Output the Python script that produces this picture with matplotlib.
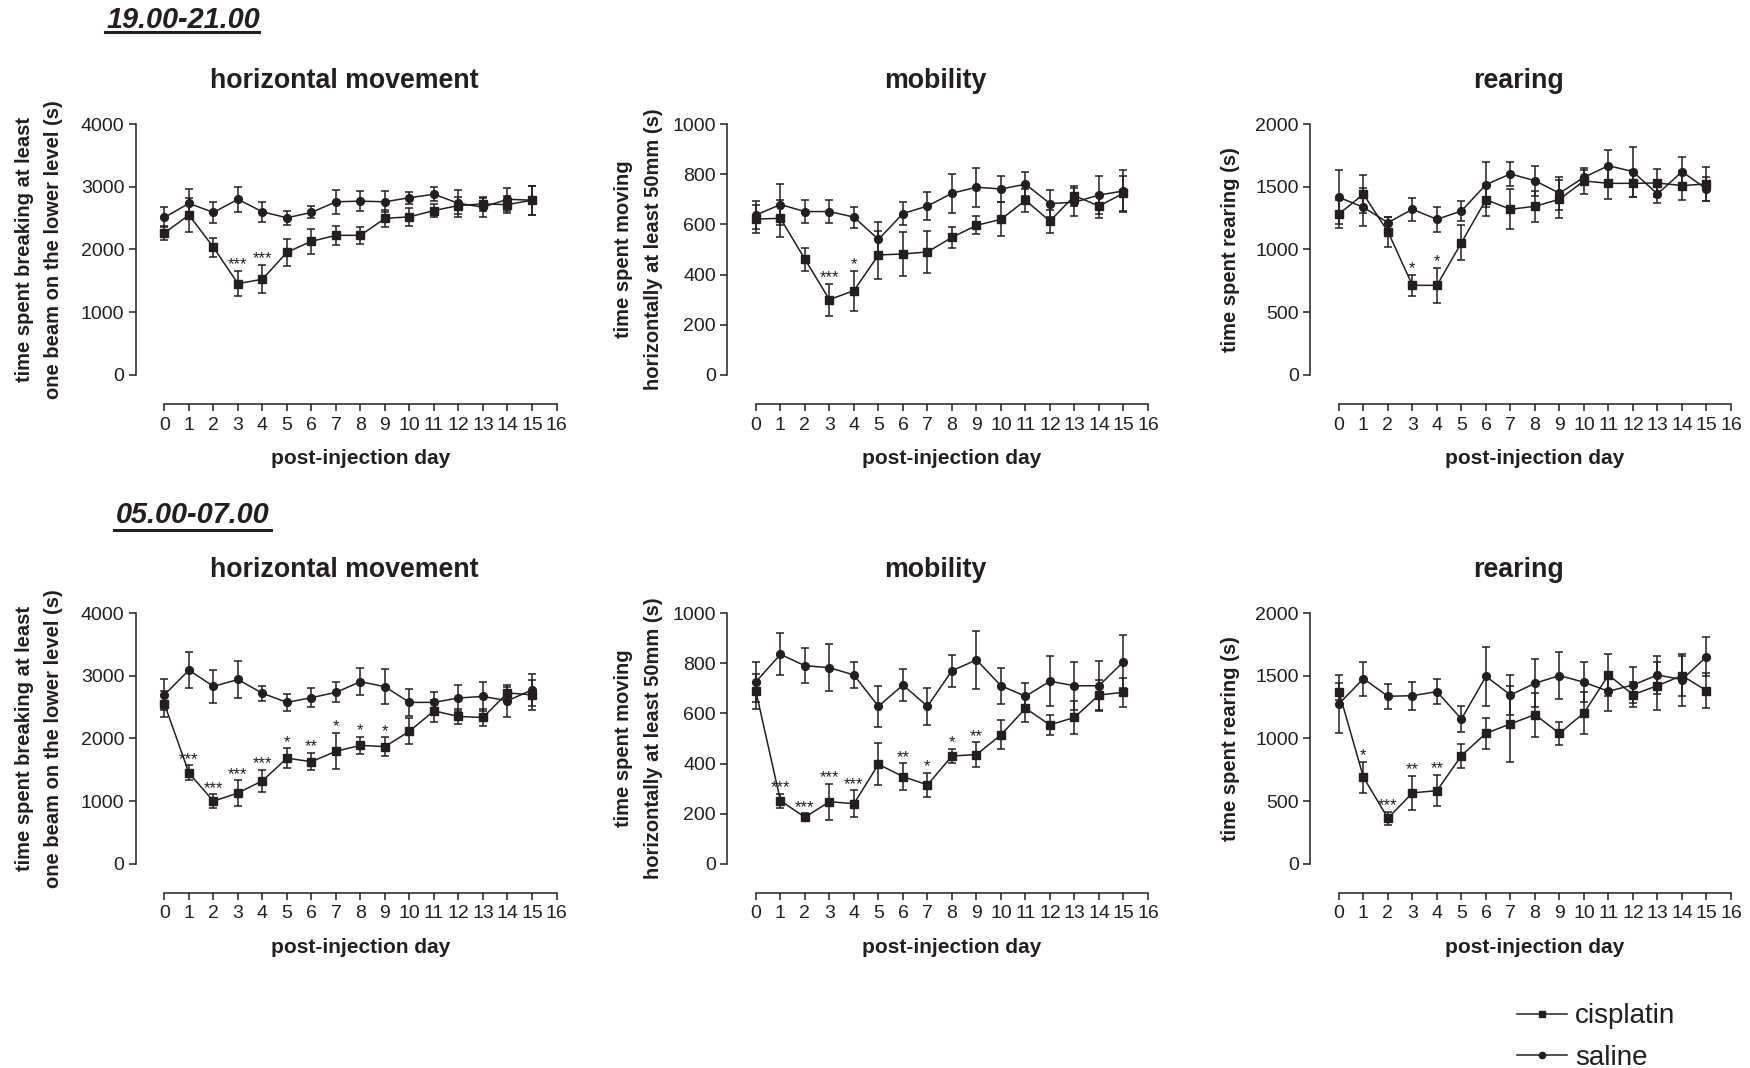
import numpy as np
import matplotlib
matplotlib.use('Agg')
import matplotlib.pyplot as plt
from matplotlib.lines import Line2D

plt.rcParams['font.family'] = ['Liberation Sans', 'DejaVu Sans']

INK = '#231f20'

days = np.arange(16)
day_ticks = np.arange(17)

# ---- 19.00-21.00 ----
hm_eve_cis = [2260, 2550, 2035, 1455, 1525, 1955, 2130, 2225, 2225, 2495, 2520, 2620, 2700, 2725, 2715, 2785]
hm_eve_cis_sem = [115, 265, 155, 205, 225, 215, 200, 155, 140, 140, 145, 100, 130, 110, 130, 230]
hm_eve_sal = [2510, 2735, 2590, 2800, 2600, 2505, 2590, 2760, 2770, 2760, 2825, 2880, 2735, 2675, 2800, 2785]
hm_eve_sal_sem = [160, 235, 170, 195, 155, 110, 95, 190, 160, 170, 95, 115, 210, 150, 185, 230]
hm_eve_stars = ['', '', '', '***', '***', '', '', '', '', '', '', '', '', '', '', '']

mob_eve_cis = [621, 624, 461, 300, 336, 478, 482, 490, 548, 596, 620, 696, 613, 714, 673, 724]
mob_eve_cis_sem = [56, 73, 46, 64, 80, 96, 86, 82, 43, 36, 68, 46, 46, 40, 49, 70]
mob_eve_sal = [637, 679, 651, 651, 629, 540, 643, 673, 724, 748, 741, 760, 683, 688, 717, 733]
mob_eve_sal_sem = [56, 81, 46, 46, 42, 70, 46, 56, 77, 78, 53, 48, 54, 55, 77, 85]
mob_eve_stars = ['', '', '', '***', '*', '', '', '', '', '', '', '', '', '', '', '']

rear_eve_cis = [1283, 1440, 1142, 714, 714, 1054, 1397, 1320, 1344, 1400, 1546, 1527, 1527, 1530, 1509, 1522]
rear_eve_cis_sem = [110, 150, 120, 85, 138, 138, 127, 160, 122, 150, 106, 122, 106, 114, 114, 133]
rear_eve_sal = [1416, 1336, 1214, 1320, 1240, 1307, 1517, 1602, 1548, 1448, 1575, 1668, 1620, 1442, 1620, 1482]
rear_eve_sal_sem = [217, 150, 48, 90, 99, 77, 180, 95, 120, 130, 56, 125, 199, 70, 120, 93]
rear_eve_stars = ['', '', '', '*', '*', '', '', '', '', '', '', '', '', '', '', '']

# ---- 05.00-07.00 ----
hm_morn_cis = [2550, 1450, 1000, 1130, 1325, 1685, 1630, 1795, 1890, 1870, 2115, 2440, 2350, 2335, 2725, 2695]
hm_morn_cis_sem = [210, 120, 110, 205, 175, 155, 140, 290, 140, 150, 205, 175, 120, 140, 100, 240]
hm_morn_sal = [2695, 3090, 2830, 2940, 2720, 2575, 2650, 2735, 2905, 2825, 2575, 2575, 2645, 2670, 2600, 2775]
hm_morn_sal_sem = [245, 290, 260, 295, 120, 135, 150, 160, 220, 280, 215, 170, 215, 225, 255, 260]
hm_morn_stars = ['', '***', '***', '***', '***', '*', '**', '*', '*', '*', '', '', '', '', '', '']

mob_morn_cis = [688, 252, 186, 248, 240, 397, 348, 315, 430, 436, 514, 620, 554, 584, 673, 684]
mob_morn_cis_sem = [70, 28, 16, 72, 53, 84, 53, 48, 29, 49, 58, 53, 40, 66, 58, 58]
mob_morn_sal = [726, 835, 790, 782, 753, 628, 713, 628, 770, 813, 710, 668, 728, 710, 710, 806]
mob_morn_sal_sem = [80, 84, 70, 93, 53, 82, 63, 73, 64, 117, 72, 53, 99, 95, 100, 106]
mob_morn_stars = ['', '***', '***', '***', '***', '', '**', '*', '*', '**', '', '', '', '', '', '']

rear_morn_cis = [1373, 691, 364, 566, 584, 863, 1041, 1116, 1190, 1041, 1203, 1506, 1349, 1421, 1501, 1381]
rear_morn_cis_sem = [70, 125, 53, 138, 125, 96, 125, 300, 175, 93, 167, 170, 100, 191, 160, 138]
rear_morn_sal = [1275, 1477, 1336, 1341, 1373, 1155, 1495, 1347, 1440, 1501, 1448, 1376, 1426, 1506, 1469, 1652]
rear_morn_sal_sem = [234, 135, 98, 112, 101, 104, 237, 162, 193, 186, 159, 157, 141, 150, 207, 154]
rear_morn_stars = ['', '*', '***', '**', '**', '', '', '', '', '', '', '', '', '', '', '']

titles = ['horizontal movement', 'mobility', 'rearing']
ylabels = ['time spent breaking at least\none beam on the lower level (s)',
           'time spent moving\nhorizontally at least 50mm (s)',
           'time spent rearing (s)']
ymaxes = [4000, 1000, 2000]
ysteps = [1000, 200, 500]
headers = ['19.00-21.00', '05.00-07.00']

# ---- layout (pixels of a 1750x1068 canvas) ----
W, H = 1750, 1068
col_left = [135.5, 727, 1310]
ax_w = 421
row_top = [124, 613]
ax_h = 280
ylab_x = [-0.229, -0.21, -0.188]
XLO = -1.18

fig = plt.figure(figsize=(17.5, 10.68), dpi=100)


def draw_panel(ax, cis, cis_sem, sal, sal_sem, stars, ymax, step, title, ylabel, lab_x):
    ax.errorbar(days, cis, yerr=cis_sem, color=INK, marker='s', ms=6.2, lw=1.1,
                elinewidth=1.1, capsize=3, capthick=1.1, clip_on=False, zorder=3)
    ax.errorbar(days, sal, yerr=sal_sem, color=INK, marker='o', ms=5.6, lw=1.1,
                elinewidth=1.1, capsize=3, capthick=1.1, clip_on=False, zorder=3)
    for d, s in zip(days, stars):
        if s:
            ax.text(d, cis[d] + cis_sem[d] + 0.006 * ymax, s, ha='center', va='baseline',
                    fontsize=12, color=INK)
    ax.set_xlim(XLO, 16)
    ax.set_ylim(-0.116 * ymax, ymax)
    for side in ['top', 'right']:
        ax.spines[side].set_visible(False)
    ax.spines['left'].set_bounds(0, ymax)
    ax.spines['bottom'].set_bounds(0, 16)
    for side in ['left', 'bottom']:
        ax.spines[side].set_color(INK)
        ax.spines[side].set_linewidth(1.1)
    ax.set_xticks(day_ticks)
    ax.set_yticks(np.arange(0, ymax + 1, step))
    ax.tick_params(colors=INK, labelsize=14, length=5, width=1.1, direction='out')
    ax.tick_params(axis='x', pad=4)
    ax.tick_params(axis='y', pad=3)
    ax.set_xlabel('post-injection day', fontsize=15, fontweight='bold', color=INK)
    ax.xaxis.set_label_coords((8 - XLO) / (16 - XLO), -0.194)
    ax.xaxis.label.set_va('center')
    ax.set_ylabel(ylabel, fontsize=14.5, fontweight='bold', color=INK, linespacing=1.7)
    ax.yaxis.set_label_coords(lab_x, 0.552)
    ax.yaxis.label.set_va('center')
    ax.text(0.495, 1.128, title, transform=ax.transAxes, ha='center', va='baseline',
            fontsize=19.3, fontweight='bold', color=INK)


panels = [
    [(hm_eve_cis, hm_eve_cis_sem, hm_eve_sal, hm_eve_sal_sem, hm_eve_stars),
     (mob_eve_cis, mob_eve_cis_sem, mob_eve_sal, mob_eve_sal_sem, mob_eve_stars),
     (rear_eve_cis, rear_eve_cis_sem, rear_eve_sal, rear_eve_sal_sem, rear_eve_stars)],
    [(hm_morn_cis, hm_morn_cis_sem, hm_morn_sal, hm_morn_sal_sem, hm_morn_stars),
     (mob_morn_cis, mob_morn_cis_sem, mob_morn_sal, mob_morn_sal_sem, mob_morn_stars),
     (rear_morn_cis, rear_morn_cis_sem, rear_morn_sal, rear_morn_sal_sem, rear_morn_stars)],
]

for r in range(2):
    for c in range(3):
        ax = fig.add_axes([col_left[c] / W, 1 - (row_top[r] + ax_h) / H, ax_w / W, ax_h / H])
        cis, cis_sem, sal, sal_sem, stars = panels[r][c]
        draw_panel(ax, cis, cis_sem, sal, sal_sem, stars, ymaxes[c], ysteps[c],
                   titles[c], ylabels[c], ylab_x[c])

# section headers, underlined
header_pos = [(107, 20, 32, 259), (116, 515, 530, 271)]
for text, (x0, yc, yl, x1) in zip(headers, header_pos):
    fig.text(x0 / W, 1 - yc / H, text, fontsize=20.8, fontweight='bold', fontstyle='italic',
             ha='left', va='center', color=INK)
    fig.add_artist(Line2D([(x0 - 2) / W, x1 / W], [1 - yl / H, 1 - yl / H], color=INK, lw=2.2))

handles = [Line2D([], [], color=INK, lw=1.1, marker='s', ms=5),
           Line2D([], [], color=INK, lw=1.1, marker='o', ms=4.5)]
fig.legend(handles, ['cisplatin', 'saline'], loc='center left',
           bbox_to_anchor=(1517 / W, 1 - 1037 / H), frameon=False, fontsize=20,
           handlelength=1.8, handletextpad=0.3, labelspacing=0.55, borderpad=0,
           borderaxespad=0, labelcolor=INK)

fig.savefig('out.png', dpi=100, facecolor='white')
